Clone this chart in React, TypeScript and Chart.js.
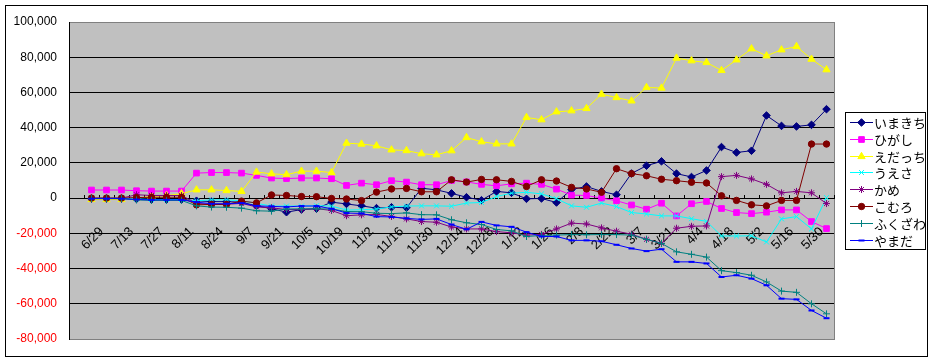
import React, { useEffect, useRef } from 'react';
import { Chart, registerables } from 'chart.js';
import { drawPoint } from 'chart.js/helpers';

Chart.register(...registerables);

// Category labels (one per week); only every second one is printed, as in the original
const dates = [
  '6/29', '7/6', '7/13', '7/20', '7/27', '8/3', '8/11', '8/17', '8/24', '8/31',
  '9/7', '9/14', '9/21', '9/28', '10/5', '10/12', '10/19', '10/26', '11/2', '11/9',
  '11/16', '11/23', '11/30', '12/7', '12/14', '12/21', '12/28', '1/4', '1/12', '1/19',
  '1/26', '2/1', '2/8', '2/15', '2/22', '3/1', '3/7', '3/14', '3/21', '3/28',
  '4/4', '4/11', '4/18', '4/25', '5/2', '5/9', '5/16', '5/23', '5/30', '6/6',
];

const players = ['いまきち', 'ひがし', 'えだっち', 'うえさ', 'かめ', 'こむろ', 'ふくざわ', 'やまだ'];

const imakichi = [
  -300, -300, -300, -500, -800, -800, -800,
  -1500, -2000, -2000, -2300, -4400, -6000, -8000, -6500, -6000,
  -2300, -3300, -4400, -5700, -5200, -5500, 5600, 4700,
  2700, 500, -1200, 3800, 3000, -400, -200, -2500, 4900, 6600, 3800, 1900,
  14000, 18400, 20900, 13900, 12000, 15700, 29000, 25900, 26900, 46900, 41000, 40700, 41600, 50500,
];
const higashi = [
  4600, 4600, 4600, 4200, 4000, 4000, 4000,
  14200, 14500, 14500, 14200, 12900, 11400, 11100, 11400, 11400,
  11000, 7200, 8500, 7600, 9900, 9100, 7600, 7600,
  10000, 9200, 7800, 7000, 8100, 8500, 7800, 5100, 1700, 1500, 0, -1500,
  -3900, -6300, -2900, -10100, -3200, -1900, -5900, -8200, -8800, -8000, -6700, -6700, -13300, -17300,
];
const edacchi = [
  -800, -800, -800, 0, 900, 1500, 2500,
  4700, 4700, 4300, 3800, 14800, 13800, 13300, 15300, 15300,
  14500, 31200, 30700, 29700, 27400, 27000, 25200, 24600,
  26900, 34400, 32000, 30800, 30800, 45800, 44500, 49000, 49600, 50900, 59000, 57100,
  55200, 62800, 62500, 79500, 78000, 77000, 72500, 78500, 84800, 80800, 84200, 86100, 78900, 72900,
];
const uesa = [
  0, 0, 0, -500, -800, -800, -800,
  -1500, -1000, -1000, -1500, -3000, -4500, -4500, -4500, -4300,
  -4500, -6800, -6600, -6200, -5000, -4500, -4400, -4400,
  -4600, -2800, -2500, 900, 2800, 3300, 2400, -300, -4400, -5200, -2800, -4800,
  -8200, -9000, -10100, -10100, -11700, -13200, -21500, -21500, -21400, -24900, -11800, -10500, -17500, 300,
];
const kame = [
  0, 0, 0, 1900, 1500, 1500, 1500,
  -3000, -3500, -3500, -3000, -5000, -5500, -6500, -6500, -6000,
  -7000, -10000, -9500, -9300, -10400, -11800, -13300, -13700,
  -16400, -17500, -17500, -19000, -19700, -21000, -20600, -17500, -14200, -14700, -16900, -18800,
  -20500, -23400, -25700, -17100, -16000, -15800, 12200, 12900, 10900, 7800, 3000, 3800, 3000, -3100,
];
const komuro = [
  0, 0, 0, 300, 500, 500, 500,
  -3800, -3600, -3600, -1700, -2700, 1800, 1500, 900, 800,
  -200, -500, -1400, 3400, 5200, 5500, 3600, 3600,
  10400, 9100, 10600, 10400, 9500, 6600, 10400, 9700, 6100, 5200, 3300, 16700,
  13900, 12700, 10700, 9900, 9000, 8600, 1300, -1300, -3800, -4400, -1300, -1300, 30700, 30700,
];
const fukuzawa = [
  -300, -300, -300, -1000, -1300, -1300, -1300,
  -4400, -5100, -5200, -5700, -7200, -7400, -6200, -6100, -6100,
  -6200, -7600, -7700, -8600, -8800, -8400, -9400, -9500,
  -12300, -14000, -15000, -17800, -18600, -21800, -21200, -21000, -20700, -20800, -20700, -20700,
  -21000, -23400, -25700, -30500, -31900, -33500, -41200, -42300, -43800, -47600, -52800, -53500, -60000, -65700,
];
const yamada = [
  -300, -300, -300, -800, -1000, -1000, -1000,
  -2300, -3200, -3200, -2800, -4400, -4700, -5000, -4500, -4500,
  -6000, -8500, -8700, -10500, -10700, -11500, -12100, -11800,
  -15000, -17700, -13500, -15500, -16300, -19300, -21800, -21800, -24000, -24000, -24500, -26500,
  -28600, -30100, -29000, -36200, -36200, -37100, -44800, -43800, -45700, -49500, -57100, -57500, -63800, -68200,
];

const seriesValues = [imakichi, higashi, edacchi, uesa, kame, komuro, fukuzawa, yamada];
const yTickValues = [-80000, -60000, -40000, -20000, 0, 20000, 40000, 60000, 80000, 100000];

const colors = ['#000080', '#FF00FF', '#FFFF00', '#00FFFF', '#800080', '#800000', '#008080', '#0000FF'];
const markers = ['rectRot', 'rect', 'triangle', 'crossRot', 'star', 'circle', 'cross', 'line'];
const radii = [3.8, 4, 4.2, 3.5, 3.5, 3.2, 3.5, 3];
const markerBorder = [1, 1, 1, 1, 1, 1, 1, 2];

const FONT = "'Liberation Sans', Arial, sans-serif";
const JP_FONT = "'Noto Sans CJK JP', sans-serif";

const framePlugin = {
  id: 'frame',
  beforeDraw(chart: any) {
    const { ctx, chartArea: a, width, height } = chart;
    ctx.save();
    ctx.fillStyle = '#FFFFFF';
    ctx.fillRect(0, 0, width, height);
    ctx.fillStyle = '#C0C0C0';
    ctx.fillRect(a.left, a.top, a.right - a.left, a.bottom - a.top);
    ctx.strokeStyle = '#000000';
    ctx.lineWidth = 1;
    ctx.strokeRect(5.5, 5.5, 922, 351);
    ctx.strokeStyle = '#808080';
    ctx.beginPath();
    ctx.moveTo(Math.round(a.right) + 0.5, a.top);
    ctx.lineTo(Math.round(a.right) + 0.5, a.bottom + 1);
    ctx.stroke();
    ctx.restore();
  },
  afterDraw(chart: any) {
    const { ctx } = chart;
    ctx.save();
    ctx.strokeStyle = '#000000';
    ctx.lineWidth = 1;
    ctx.fillStyle = '#FFFFFF';
    ctx.fillRect(845.5, 112.5, 80, 137);
    ctx.strokeRect(845.5, 112.5, 80, 137);
    chart.data.datasets.forEach((ds: any, i: number) => {
      const y = Math.round(121.7 + 16.9 * i) + 0.5;
      ctx.strokeStyle = ds.borderColor;
      ctx.lineWidth = 1;
      ctx.beginPath();
      ctx.moveTo(850, y);
      ctx.lineTo(873, y);
      ctx.stroke();
      ctx.fillStyle = ds.pointBackgroundColor;
      ctx.strokeStyle = ds.pointBorderColor;
      ctx.lineWidth = ds.pointBorderWidth;
      drawPoint(ctx, { pointStyle: ds.pointStyle, radius: ds.pointRadius, rotation: 0, borderWidth: ds.pointBorderWidth } as any, 861.5, y);
      ctx.fillStyle = '#000000';
      ctx.font = `13px ${JP_FONT}`;
      ctx.textBaseline = 'middle';
      ctx.textAlign = 'left';
      ctx.fillText(ds.label, 874, y + 0.5);
    });
    ctx.restore();
  },
};

export default function App() {
  const ref = useRef<HTMLCanvasElement | null>(null);

  useEffect(() => {
    if (!ref.current) return;
    const labels = [''].concat(dates);
    const datasets = players.map((name, i) => ({
      label: name,
      data: [null as number | null].concat(seriesValues[i]),
      order: -i,
      borderColor: colors[i],
      backgroundColor: colors[i],
      borderWidth: 1,
      pointStyle: markers[i],
      pointRadius: radii[i],
      pointHoverRadius: radii[i],
      pointBackgroundColor: colors[i],
      pointBorderColor: colors[i],
      pointBorderWidth: markerBorder[i],
      tension: 0,
      fill: false,
    }));

    const chart = new Chart(ref.current, {
      type: 'line',
      data: { labels, datasets },
      plugins: [framePlugin],
      options: {
        animation: false,
        responsive: false,
        devicePixelRatio: 1,
        layout: { padding: { top: 22, right: 99, bottom: 22, left: 0 } },
        plugins: { legend: { display: false }, tooltip: { enabled: false } },
        scales: {
          x: {
            type: 'category',
            position: { y: 0 } as any,
            offset: true,
            grid: { offset: true, drawOnChartArea: false, drawTicks: true, tickLength: -4, color: '#000000', lineWidth: 1 },
            border: { display: true, color: '#000000', width: 1 },
            ticks: {
              autoSkip: false,
              minRotation: 45,
              maxRotation: 45,
              padding: 30,
              labelOffset: 10,
              color: '#000000',
              font: { family: FONT, size: 13 },
              callback: (_v: any, index: number) => (index % 2 === 1 ? labels[index] : ''),
            },
            afterFit: (s: any) => { s.height = 0; },
          },
          y: {
            min: -80000,
            max: 100000,
            afterBuildTicks: (s: any) => { s.ticks = yTickValues.map((v) => ({ value: v })); },
            grid: {
              drawTicks: false,
              lineWidth: 1,
              color: (c: any) => (c.tick && (c.tick.value === 100000 || c.tick.value === -80000) ? '#808080' : '#000000'),
            },
            border: { display: true, color: '#000000', width: 1 },
            ticks: {
              padding: 12,
              font: { family: FONT, size: 12 },
              color: (c: any) => (c.tick && c.tick.value < 0 ? '#FF0000' : '#000000'),
              callback: (v: any) => Number(v).toLocaleString('en-US'),
            },
            afterFit: (s: any) => { s.width = 69; },
          },
        },
      },
    });
    return () => chart.destroy();
  }, []);

  return (
    <div style={{ position: 'absolute', left: 0, top: 0, width: 933, height: 361, background: '#fff' }}>
      <canvas ref={ref} width={933} height={361} style={{ display: 'block', width: 933, height: 361 }} />
    </div>
  );
}
